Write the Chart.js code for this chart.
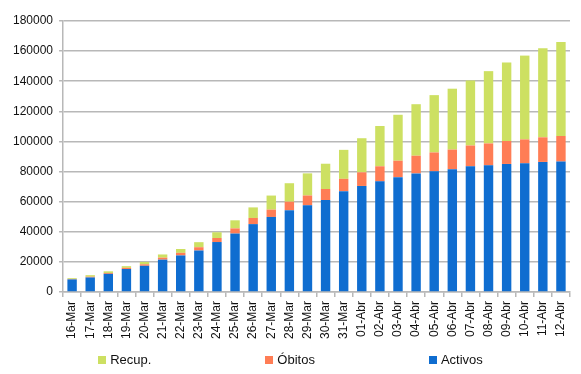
<!DOCTYPE html>
<html>
<head>
<meta charset="utf-8">
<script src="https://cdn.jsdelivr.net/npm/chart.js@4.4.1/dist/chart.umd.min.js"></script>
<style>
  body { margin: 0; background: #fff; }
  #wrap { position: relative; width: 581px; height: 374px; }
  #leyenda {
    position: absolute; left: 0; top: 352px; width: 581px;
    display: flex; justify-content: center; gap: 114px;
    font: 13px "Liberation Sans", Arial, sans-serif; color: #111;
  }
  #leyenda .item { display: flex; align-items: center; }
  #leyenda .cuadro { width: 8px; height: 8px; margin-right: 4px; }
</style>
</head>
<body>
<div id="wrap">
  <canvas id="grafico" width="581" height="374"></canvas>
  <div id="leyenda"></div>
</div>
<script>
// datos (casos acumulados)
let fechas = ['16-Mar', '17-Mar', '18-Mar', '19-Mar', '20-Mar', '21-Mar', '22-Mar', '23-Mar',
    '24-Mar', '25-Mar', '26-Mar', '27-Mar', '28-Mar', '29-Mar', '30-Mar', '31-Mar',
    '01-Abr', '02-Abr', '03-Abr', '04-Abr', '05-Abr', '06-Abr', '07-Abr', '08-Abr',
    '09-Abr', '10-Abr', '11-Abr', '12-Abr'];
let activos = [8352, 9659, 12037, 15273, 17390, 21475, 24277, 27552, 33183, 38809, 45084, 49844,
    54273, 57560, 61075, 66969, 70436, 73492, 76262, 78773, 80261, 81540, 83504, 84114,
    85043, 85511, 86390, 86656];
let obitos = [309, 491, 598, 767, 1002, 1326, 1720, 2182, 2696, 3434, 4089, 4858, 5690, 6528,
    7340, 8189, 9053, 10003, 10935, 11744, 12418, 13055, 13798, 14555, 15238, 15843, 16353, 16972];
let recup = [530, 1028, 1081, 1107, 1588, 2125, 2575, 3355, 3794, 5367, 7015, 9357, 12285, 14709,
    16780, 19259, 22647, 26743, 30513, 34219, 38080, 40437, 43208, 48021, 52165, 55668, 59109, 62391];

let colorGrid = '#b8b8b8';
let fuente = '"Liberation Sans", Arial, sans-serif';

let series = [
    { label: 'Activos', data: activos, color: '#0f6dd0' },
    { label: 'Óbitos', data: obitos, color: '#ff7d55' },
    { label: 'Recup.', data: recup, color: '#cde062' }
];

let datasets = series.map(function (s) {
    return {
        label: s.label,
        data: s.data,
        backgroundColor: s.color,
        borderWidth: 0,
        barPercentage: 0.52,
        categoryPercentage: 1
    };
});

var ctx = document.getElementById('grafico');

var grafico = new Chart(ctx, {
    type: 'bar',
    data: {
        labels: fechas,
        datasets: datasets
    },
    options: {
        responsive: false,
        animation: false,
        layout: { padding: { left: 7, right: 11, top: 21, bottom: 31 } },
        plugins: {
            legend: { display: false },
            tooltip: { enabled: false }
        },
        scales: {
            x: {
                stacked: true,
                grid: {
                    offset: true,
                    color: function (c) { return c.index === fechas.length ? colorGrid : 'rgba(0,0,0,0)'; },
                    tickColor: colorGrid,
                    tickLength: 5,
                    lineWidth: 1.5
                },
                border: { color: colorGrid, width: 1.5 },
                ticks: {
                    autoSkip: false,
                    minRotation: 90,
                    maxRotation: 90,
                    padding: 4,
                    color: '#111',
                    font: { family: fuente, size: 12 }
                }
            },
            y: {
                stacked: true,
                min: 0,
                max: 180000,
                grid: { color: colorGrid, lineWidth: 1.5, tickLength: 4 },
                border: { color: colorGrid, width: 1.5 },
                ticks: {
                    stepSize: 20000,
                    padding: 6,
                    color: '#111',
                    font: { family: fuente, size: 12 },
                    callback: function (v) { return String(v); }
                }
            }
        }
    }
});

// leyenda en el orden del original (de arriba a abajo)
let leyenda = document.getElementById('leyenda');
series.slice().reverse().forEach(function (s) {
    let item = document.createElement('div');
    item.className = 'item';
    let cuadro = document.createElement('span');
    cuadro.className = 'cuadro';
    cuadro.style.background = s.color;
    let texto = document.createElement('span');
    texto.textContent = s.label;
    item.appendChild(cuadro);
    item.appendChild(texto);
    leyenda.appendChild(item);
});
</script>
</body>
</html>
